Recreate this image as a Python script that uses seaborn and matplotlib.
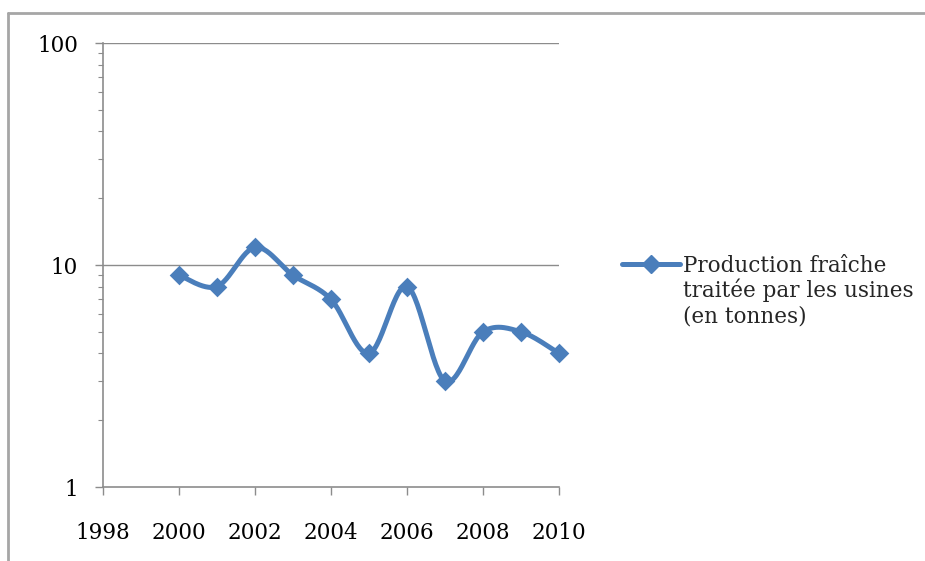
#import library
import numpy as np
import pandas as pd
import seaborn as sns
import matplotlib
matplotlib.use('Agg')
import matplotlib.pyplot as plt
from matplotlib.lines import Line2D
from matplotlib.ticker import FixedLocator, LogLocator, NullFormatter

#data
years = [2000, 2001, 2002, 2003, 2004, 2005, 2006, 2007, 2008, 2009, 2010]
production = [9, 8, 12, 9, 7, 4, 8, 3, 5, 5, 4]
label_lines = ['Production fraîche', 'traitée par les usines', '(en tonnes)']
x_ticks = [1998, 2000, 2002, 2004, 2006, 2008, 2010]
y_ticks = [1, 10, 100]

W, H = 925, 561
blue = '#4a7ebb'
grey = '#8c8c8c'
fs = 15.5


#smoothed line like excel (bezier through the points, in log space)
def smooth(xs, ys, n=30):
    p = np.column_stack([np.asarray(xs, float), np.log10(ys)])
    out = []
    for i in range(len(p) - 1):
        p0 = p[i - 1] if i > 0 else p[i]
        p3 = p[i + 2] if i + 2 < len(p) else p[i + 1]
        c1 = p[i] + (p[i + 1] - p0) / 6
        c2 = p[i + 1] - (p3 - p[i]) / 6
        t = np.linspace(0, 1, n)[:, None]
        seg = ((1 - t) ** 3 * p[i] + 3 * (1 - t) ** 2 * t * c1
               + 3 * (1 - t) * t ** 2 * c2 + t ** 3 * p[i + 1])
        out.append(seg if i == 0 else seg[1:])
    seg = np.vstack(out)
    return seg[:, 0], 10 ** seg[:, 1]


df = pd.DataFrame({'year': years, 'value': production})
sx, sy = smooth(df['year'], df['value'])
curve = pd.DataFrame({'year': sx, 'value': sy})

sns.set_theme(style='white')
plt.rcParams['font.family'] = ['DejaVu Serif']

fig = plt.figure(figsize=(W / 100, H / 100), dpi=100)
ax = fig.add_axes([103 / W, 1 - 487 / H, (559 - 103) / W, (487 - 43) / H])

sns.lineplot(data=curve, x='year', y='value', sort=False, estimator=None,
             color=blue, linewidth=3.6, ax=ax, zorder=3, clip_on=False)
sns.scatterplot(data=df, x='year', y='value', marker='D', s=100, color=blue,
                linewidth=0, ax=ax, zorder=4, clip_on=False)

ax.set_yscale('log')
ax.set_ylim(1, 100)
ax.set_xlim(1998, 2010)
ax.xaxis.set_major_locator(FixedLocator(x_ticks))
ax.set_xticklabels([str(v) for v in x_ticks])
ax.yaxis.set_major_locator(FixedLocator(y_ticks))
ax.set_yticklabels([str(v) for v in y_ticks])
ax.yaxis.set_minor_locator(LogLocator(base=10, subs=np.arange(2, 10)))
ax.yaxis.set_minor_formatter(NullFormatter())
ax.set_xlabel('')
ax.set_ylabel('')

ax.grid(False)
for v in y_ticks[1:]:
    ax.axhline(v, color=grey, lw=1, zorder=1)

for s in ['top', 'right']:
    ax.spines[s].set_visible(False)
for s in ['left', 'bottom']:
    ax.spines[s].set_color(grey)
    ax.spines[s].set_linewidth(1.2)

ax.tick_params(axis='y', which='major', left=True, direction='out', length=6,
               width=1, color=grey, labelsize=fs, pad=12, labelcolor='black')
ax.tick_params(axis='y', which='minor', left=True, direction='out', length=3.5,
               width=0.8, color=grey)
ax.tick_params(axis='x', which='major', bottom=True, direction='out', length=6,
               width=1, color=grey, labelsize=fs, pad=19, labelcolor='black')

#legend: handle next to first line only
handle = Line2D([], [], color=blue, lw=3.6, marker='D', markersize=9)
leg = ax.legend(handles=[handle], labels=[label_lines[0]], loc='upper left',
                bbox_to_anchor=(622 / W, 1 - 255 / H), bbox_transform=fig.transFigure,
                frameon=False, fontsize=fs, handlelength=2.7, handletextpad=0.15,
                borderpad=0, borderaxespad=0)

fig.canvas.draw()
t0 = leg.get_texts()[0]
bx, by = t0.get_transform().transform(t0.get_position())
for k, line in enumerate(label_lines[1:], start=1):
    fig.text(bx / W, (by - 25 * k) / H, line, fontsize=fs, ha='left', va='baseline')

#outer frame of the chart
fig.add_artist(Line2D([8 / W, 8 / W], [0, 1 - 13 / H], transform=fig.transFigure,
                      color='#a6a6a6', lw=2))
fig.add_artist(Line2D([8 / W, 1], [1 - 13 / H, 1 - 13 / H], transform=fig.transFigure,
                      color='#a6a6a6', lw=2))

plt.savefig('out.png', dpi=100)
